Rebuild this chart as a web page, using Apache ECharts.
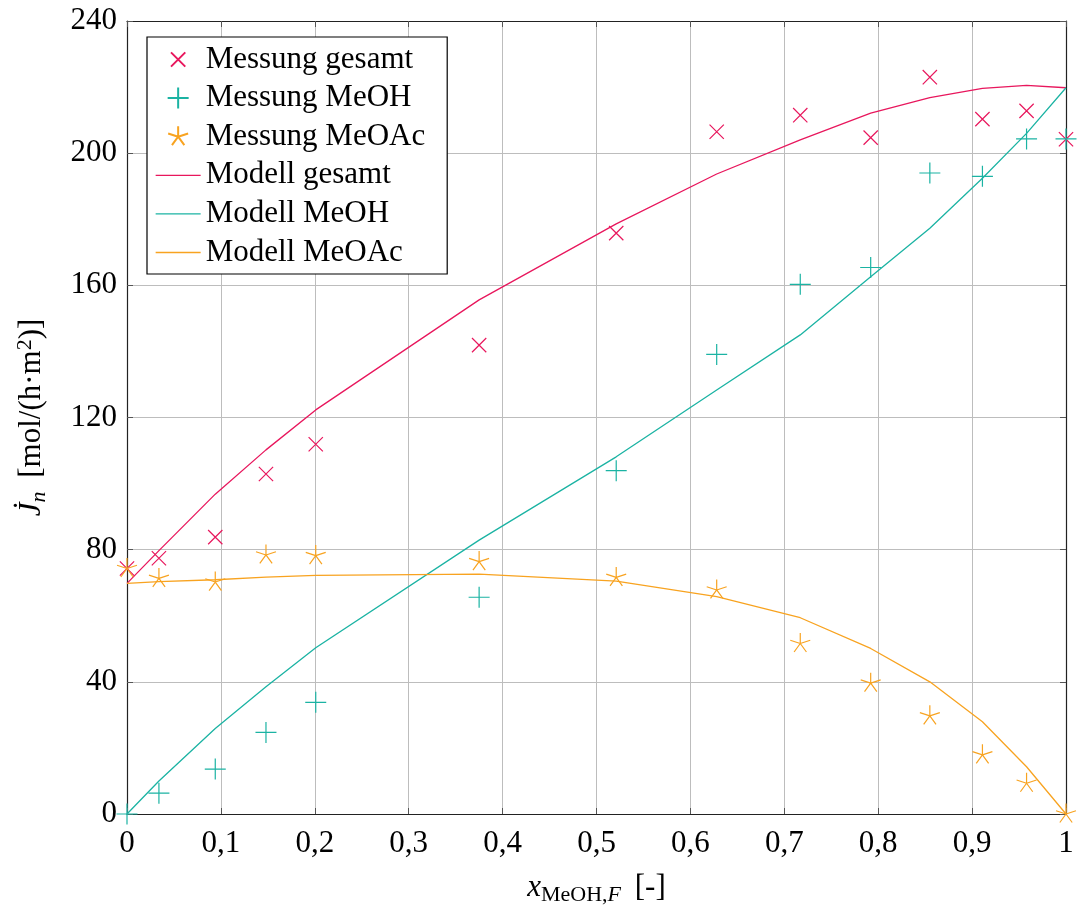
<!DOCTYPE html>
<html>
<head>
<meta charset="utf-8">
<script src="https://cdn.jsdelivr.net/npm/echarts@6/dist/echarts.min.js"></script>
<style>
  html, body { margin: 0; padding: 0; background: #fff; }
  #main { width: 1079px; height: 906px; }
</style>
</head>
<body>
<div id="main"></div>
<script>
// Messpunkte / Modellstuetzstellen
var xFeed = [0, 0.034, 0.094, 0.148, 0.201, 0.375, 0.521, 0.628, 0.717, 0.792, 0.855, 0.911, 0.958, 1];

var messGesamt = [74.3, 77.4, 83.8, 102.9, 111.9, 141.9, 175.8, 206.5, 211.5, 204.7, 223.0, 210.3, 212.8, 204.2];
var messMeOH = [0, 6.3, 13.6, 24.7, 33.8, 65.6, 103.9, 139.1, 160.3, 165.4, 194.0, 193.0, 204.3, 204.3];
var messMeOAc = [74.3, 71.3, 70.2, 78.4, 78.2, 76.4, 71.6, 67.8, 51.6, 39.6, 29.7, 17.9, 9.3, 0];

var modGesamt = [69.8, 79.7, 96.8, 110.2, 122.3, 155.6, 178.6, 193.7, 204.0, 212.1, 216.8, 219.6, 220.5, 219.8];
var modMeOH = [0, 10.0, 25.9, 38.5, 50.3, 82.9, 108.1, 128.3, 145.0, 162.6, 177.3, 192.4, 206.0, 219.8];
var modMeOAc = [69.8, 70.3, 70.9, 71.7, 72.2, 72.6, 70.5, 65.8, 59.4, 50.1, 40.0, 27.9, 14.3, 0];

var yTicks = [0, 40, 80, 120, 160, 200, 240];
var names = ["Messung gesamt", "Messung MeOH", "Messung MeOAc", "Modell gesamt", "Modell MeOH", "Modell MeOAc"];

var PINK = "#e8175d", TEAL = "#1bb3a3", ORANGE = "#f8a320";
var colors = [PINK, TEAL, ORANGE, PINK, TEAL, ORANGE];
var FONT = "Liberation Serif";

// Marker (nur Striche, Bounding-Box symmetrisch gehalten)
var symCross = "path://M-10,-10L-10,-10M10,10L10,10M-6.8,-6.8L6.8,6.8M6.8,-6.8L-6.8,6.8";
var symPlus = "path://M-10,0L10,0M0,-10L0,10";
var symStar = "path://M-10,-10L-10,-10M10,10L10,10M0,0L0,-10M0,0L9.51,-3.09M0,0L5.88,8.09M0,0L-5.88,8.09M0,0L-9.51,-3.09";
var symDash = "path://M0,-10L0,-10M0,10L0,10M0,0L45,0";

function pairs(ys) {
  return xFeed.map(function (x, i) { return [x, ys[i]]; });
}

function scatter(name, ys, sym, color) {
  return {
    name: name,
    type: "scatter",
    data: pairs(ys),
    symbol: sym,
    symbolSize: 21,
    itemStyle: { color: "rgba(0,0,0,0)", borderColor: color, borderWidth: 1.2, opacity: 1 },
    z: 3
  };
}

function line(name, ys, color) {
  return {
    name: name,
    type: "line",
    data: pairs(ys),
    symbol: "none",
    lineStyle: { color: color, width: 1.3 },
    itemStyle: { color: color },
    z: 2
  };
}

var chart = echarts.init(document.getElementById("main"));

var axisText = { fontFamily: FONT, fontSize: 31, color: "#000" };

var legendData = names.map(function (n, i) {
  if (i < 3) return { name: n };
  return {
    name: n,
    icon: symDash,
    itemStyle: { color: "rgba(0,0,0,0)", borderColor: colors[i], borderWidth: 1.3 }
  };
});

var option = {
  backgroundColor: "#fff",
  animation: false,
  textStyle: { fontFamily: FONT },
  grid: { left: 127, top: 21, right: 13, bottom: 92, containLabel: false, outerBoundsMode: "none" },
  legend: {
    left: 147,
    top: 37,
    orient: "vertical",
    itemWidth: 45,
    itemHeight: 21,
    itemGap: 7.6,
    padding: [7, 22, 6, 8],
    borderColor: "#000",
    borderWidth: 1.2,
    backgroundColor: "#fff",
    borderRadius: 0,
    textStyle: { fontFamily: FONT, fontSize: 31, color: "#000", lineHeight: 30 },
    data: legendData
  },
  xAxis: [
    {
      type: "value",
      min: 0,
      max: 1,
      interval: 0.1,
      name: "{i|x}{sub|MeOH,}{subi|F} [-]",
      nameLocation: "middle",
      nameGap: 56,
      nameTextStyle: {
        fontFamily: FONT, fontSize: 31, color: "#000",
        rich: {
          i: { fontFamily: FONT, fontSize: 31, fontStyle: "italic", color: "#000" },
          sub: { fontFamily: FONT, fontSize: 22, color: "#000", padding: [14, 0, 0, 0] },
          subi: { fontFamily: FONT, fontSize: 22, fontStyle: "italic", color: "#000", padding: [14, 6, 0, 0] }
        }
      },
      axisLine: { show: true, onZero: false, lineStyle: { color: "#222", width: 1.2 } },
      axisTick: { show: true, inside: true, length: 6, lineStyle: { color: "#555" } },
      axisLabel: Object.assign({
        margin: 14,
        formatter: function (v) { return String(Math.round(v * 10) / 10).replace(".", ","); }
      }, axisText),
      splitLine: { show: true, lineStyle: { color: "#bdbdbd", width: 1 } }
    },
    {
      type: "value",
      position: "top",
      min: 0,
      max: 1,
      interval: 0.1,
      axisLine: { show: true, onZero: false, lineStyle: { color: "#222", width: 1.2 } },
      axisTick: { show: true, inside: true, length: 6, lineStyle: { color: "#555" } },
      axisLabel: { show: false },
      splitLine: { show: false }
    }
  ],
  yAxis: [
    {
      type: "value",
      min: yTicks[0],
      max: yTicks[yTicks.length - 1],
      interval: yTicks[1] - yTicks[0],
      name: "{i|J\u0307}{sub|n} [mol/(h\u00B7m{sup|2})]",
      nameLocation: "middle",
      nameGap: 77,
      nameTextStyle: {
        fontFamily: FONT, fontSize: 31, color: "#000",
        rich: {
          i: { fontFamily: FONT, fontSize: 31, fontStyle: "italic", color: "#000" },
          sub: { fontFamily: FONT, fontSize: 22, fontStyle: "italic", color: "#000", padding: [14, 6, 0, 0] },
          sup: { fontFamily: FONT, fontSize: 22, color: "#000", padding: [0, 0, 14, 0] }
        }
      },
      axisLine: { show: true, onZero: false, lineStyle: { color: "#222", width: 1.2 } },
      axisTick: { show: true, inside: true, length: 6, lineStyle: { color: "#555" } },
      axisLabel: Object.assign({ margin: 10 }, axisText),
      splitLine: { show: true, lineStyle: { color: "#bdbdbd", width: 1 } }
    },
    {
      type: "value",
      position: "right",
      min: yTicks[0],
      max: yTicks[yTicks.length - 1],
      interval: yTicks[1] - yTicks[0],
      axisLine: { show: true, onZero: false, lineStyle: { color: "#222", width: 1.2 } },
      axisTick: { show: true, inside: true, length: 6, lineStyle: { color: "#555" } },
      axisLabel: { show: false },
      splitLine: { show: false }
    }
  ],
  series: [
    scatter(names[0], messGesamt, symCross, PINK),
    scatter(names[1], messMeOH, symPlus, TEAL),
    scatter(names[2], messMeOAc, symStar, ORANGE),
    line(names[3], modGesamt, PINK),
    line(names[4], modMeOH, TEAL),
    line(names[5], modMeOAc, ORANGE)
  ]
};

chart.setOption(option);
</script>
</body>
</html>
